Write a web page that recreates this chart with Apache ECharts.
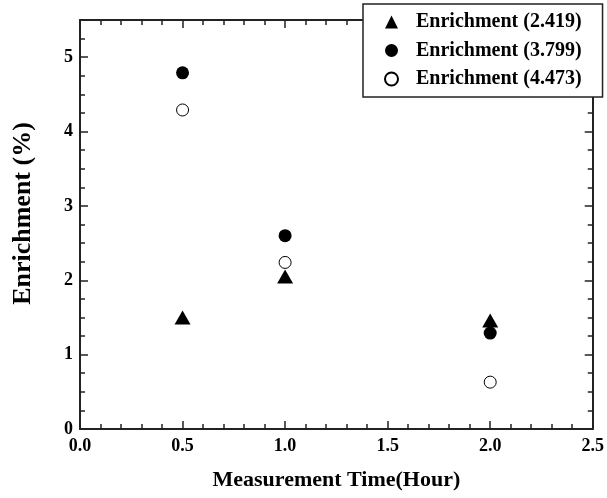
<!DOCTYPE html>
<html lang="en">
<head>
    <meta charset="UTF-8">
    <title>Enrichment vs Measurement Time</title>
    <script src="https://cdn.jsdelivr.net/npm/echarts@6/dist/echarts.min.js"></script>
    <style>
        * { margin: 0; padding: 0 }
        html, body { width: 100%; height: 100%; background: #fff; }
        #main { width: 607px; height: 498px; }
    </style>
</head>
<body>
    <div id="main"></div>
    <script type="text/javascript">
        var times = [0.5, 1.0, 2.0];
        var enrich2419 = [1.50, 2.05, 1.46];
        var enrich3799 = [4.79, 2.60, 1.29];
        var enrich4473 = [4.29, 2.24, 0.63];
        var seriesNames = ['Enrichment (2.419)', 'Enrichment (3.799)', 'Enrichment (4.473)'];

        function pairs(vals) {
            return times.map(function (t, i) { return [t, vals[i]]; });
        }

        var font = 'Liberation Serif';
        var lineColor = '#222';

        // mirror / overlay axes for the tick marks
        function xAx(pos, withLabels) {
            return {
                type: 'value', position: pos, min: 0, max: 2.5, interval: 0.5,
                name: withLabels ? 'Measurement Time(Hour)' : '',
                nameLocation: 'middle', nameGap: 40,
                nameTextStyle: { fontFamily: font, fontWeight: 'bold', fontSize: 22, color: '#000' },
                axisLine: { show: true, onZero: false, lineStyle: { color: lineColor, width: 2 } },
                axisTick: { show: true, inside: true, length: 8, lineStyle: { color: lineColor, width: 1.5 } },
                minorTick: { show: true, splitNumber: 5, length: 5, lineStyle: { color: lineColor, width: 1.5 } },
                axisLabel: {
                    show: withLabels, margin: 8, fontFamily: font, fontWeight: 'bold', fontSize: 18, color: '#000',
                    formatter: function (v) { return v.toFixed(1); }
                },
                splitLine: { show: false }
            };
        }

        function yAx(pos, interval, len, withLabels) {
            return {
                type: 'value', position: pos, min: 0, max: 5.5, interval: interval,
                name: withLabels ? 'Enrichment (%)' : '',
                nameLocation: 'middle', nameGap: 44,
                nameTextStyle: { fontFamily: font, fontWeight: 'bold', fontSize: 26, color: '#000', padding: [0, 0, 0, 22] },
                axisLine: { show: len === 8, onZero: false, lineStyle: { color: lineColor, width: 2 } },
                axisTick: { show: true, inside: true, length: len, lineStyle: { color: lineColor, width: 1.5 } },
                axisLabel: {
                    show: withLabels, margin: 7, fontFamily: font, fontWeight: 'bold', fontSize: 18, color: '#000',
                    formatter: function (v) { return v > 5 ? '' : v; }
                },
                splitLine: { show: false }
            };
        }

        var myChart = echarts.init(document.getElementById('main'));
        var option = {
            backgroundColor: '#fff',
            animation: false,
            grid: { left: 80, right: 12, top: 20, bottom: 69 },
            xAxis: [xAx('bottom', true), xAx('top', false)],
            yAxis: [
                yAx('left', 1, 8, true),
                yAx('left', 0.25, 5, false),
                yAx('right', 1, 8, false),
                yAx('right', 0.25, 5, false)
            ],
            legend: {
                orient: 'vertical',
                left: 363, top: 4,
                padding: [8, 21, 8, 21],
                itemGap: 8.5,
                itemWidth: 13, itemHeight: 13,
                backgroundColor: '#fff',
                borderColor: lineColor, borderWidth: 1.5,
                z: 10,
                textStyle: { fontFamily: font, fontWeight: 'bold', fontSize: 20, color: '#000', lineHeight: 20, padding: [0, 0, 0, 13] },
                data: seriesNames
            },
            series: [
                {
                    name: seriesNames[0], type: 'scatter', symbol: 'triangle', symbolSize: [16, 14],
                    itemStyle: { color: '#000', opacity: 1 }, data: pairs(enrich2419), z: 2
                },
                {
                    name: seriesNames[1], type: 'scatter', symbol: 'circle', symbolSize: 13,
                    itemStyle: { color: '#000', opacity: 1 }, data: pairs(enrich3799), z: 3
                },
                {
                    name: seriesNames[2], type: 'scatter', symbol: 'circle', symbolSize: 12,
                    itemStyle: { color: '#fff', borderColor: '#000', borderWidth: 1, opacity: 1 }, data: pairs(enrich4473), z: 4
                }
            ]
        };
        myChart.setOption(option);
    </script>
</body>
</html>
